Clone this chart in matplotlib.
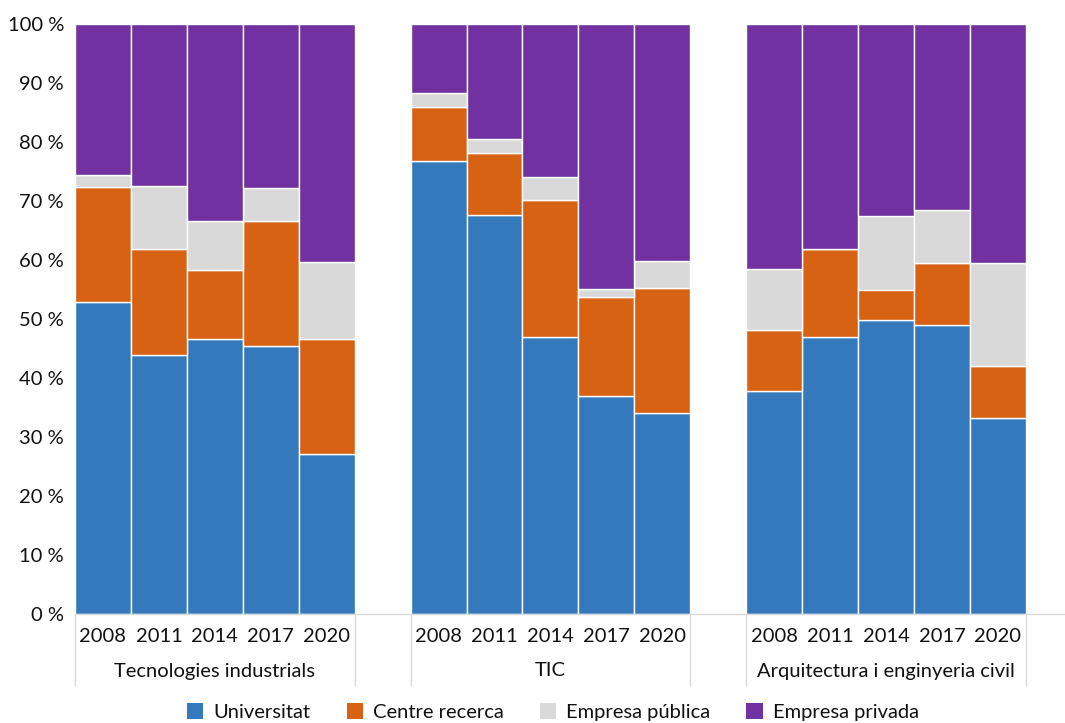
import matplotlib
matplotlib.use("Agg")
import matplotlib.pyplot as plt
import numpy as np
from matplotlib.transforms import blended_transform_factory
from matplotlib.patches import Patch

plt.rcParams['font.family'] = ['Lato', 'DejaVu Sans']

groups = ["Tecnologies industrials", "TIC", "Arquitectura i enginyeria civil"]
years = ["2008", "2011", "2014", "2017", "2020"]
series = ["Universitat", "Centre recerca", "Empresa pública", "Empresa privada"]
colors = ["#3379BC", "#D86214", "#D9D9D9", "#7131A1"]

# Percentages per group (years 2008..2020)
universitat = [52.8, 43.9, 46.6, 45.5, 27.2,
               76.7, 67.7, 47.0, 37.0, 34.0,
               37.8, 47.0, 49.9, 49.0, 33.2]
centre = [19.6, 17.9, 11.7, 21.1, 19.4,
          9.3, 10.4, 23.1, 16.8, 21.2,
          10.4, 14.8, 5.1, 10.5, 8.8]
publica = [2.0, 10.7, 8.3, 5.6, 13.0,
           2.3, 2.4, 3.9, 1.3, 4.7,
           10.3, 0.0, 12.4, 8.9, 17.5]
privada = [25.6, 27.5, 33.4, 27.8, 40.4,
           11.7, 19.5, 26.0, 44.9, 40.1,
           41.5, 38.2, 32.6, 31.6, 40.5]

fig = plt.figure(figsize=(10.65, 7.23), dpi=100)
ax = fig.add_axes([75/1065, (723-614)/723, 1-75/1065, (614-24)/723])

pos = []
for g in range(len(groups)):
    for i in range(len(years)):
        pos.append(g*6 + i)
pos = np.array(pos)

data = [universitat, centre, publica, privada]
bottom = np.zeros(len(pos))
for vals, col, name in zip(data, colors, series):
    v = np.array(vals)
    ax.bar(pos, v, width=1.0, bottom=bottom, color=col, edgecolor="white",
           linewidth=1.0, label=name)
    bottom += v

txtc = "#111111"
fs = 14.5
ax.set_xlim(-0.5, 17.2)
ax.set_ylim(0, 100)
ax.set_yticks(np.arange(0, 101, 10))
ax.set_yticklabels([f"{t} %" for t in range(0, 101, 10)], fontsize=fs, color=txtc)
ax.set_xticks(pos)
ax.set_xticklabels(years * 3, fontsize=fs, color=txtc)
ax.tick_params(axis='both', length=0)
ax.tick_params(axis='x', pad=10)
ax.tick_params(axis='y', pad=8)

for s in ["top", "right", "left"]:
    ax.spines[s].set_visible(False)
ax.spines["bottom"].set_color("#d9d9d9")
ax.spines["bottom"].set_linewidth(1.0)

trans = blended_transform_factory(ax.transData, ax.transAxes)
axh = (614-24)
sep_bottom = -(685-614)/axh
for x in [-0.5, 4.5, 5.5, 10.5, 11.5, 16.5]:
    ax.plot([x, x], [0, sep_bottom], transform=trans, color="#d9d9d9",
            linewidth=1.0, clip_on=False)

label_y = -(671-614)/axh
for g, name in enumerate(groups):
    ax.text(g*6 + 2, label_y, name, transform=trans, ha="center", va="center",
            fontsize=fs, color=txtc)

handles = [Patch(facecolor=c, edgecolor="none") for c in colors]
fig.legend(handles, series, loc="center", bbox_to_anchor=(553/1065, 1-712/723),
           ncol=4, frameon=False, fontsize=fs, handlelength=0.8, handleheight=0.8,
           columnspacing=1.8, handletextpad=0.5, labelcolor=txtc)

fig.savefig("out.png", dpi=100)
